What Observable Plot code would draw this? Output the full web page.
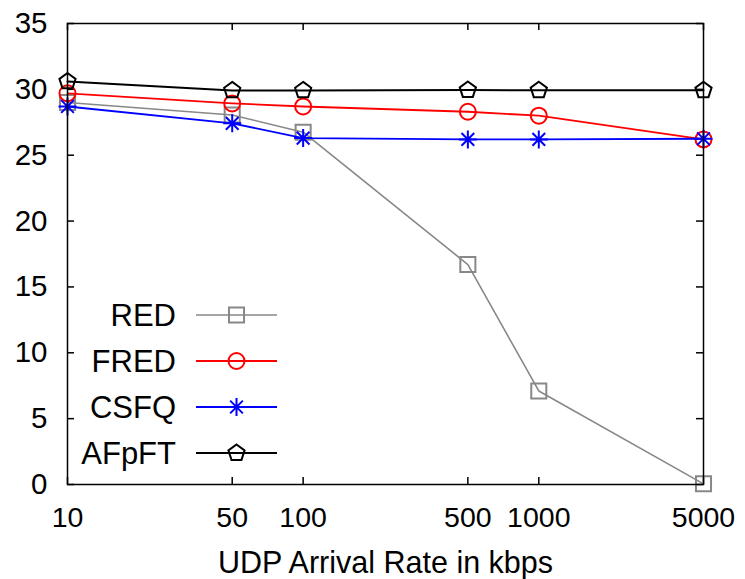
<!DOCTYPE html>
<html>
<head>
<meta charset="utf-8">
<script src="https://cdn.jsdelivr.net/npm/d3@7"></script>
<script src="https://cdn.jsdelivr.net/npm/@observablehq/plot@0.6"></script>
<style>
  html, body { margin: 0; padding: 0; background: white; }
  #chart svg { display: block; }
</style>
</head>
<body>
<div id="chart"></div>
<script>
// ---- data ----
const rates = [10, 50, 100, 500, 1000, 5000];
const xTickLabels = ["10", "50", "100", "500", "1000", "5000"];
const yTicks = [0, 5, 10, 15, 20, 25, 30, 35];
const seriesNames = ["RED", "FRED", "CSFQ", "AFpFT"];
const redValues = [29.0, 28.05, 26.75, 16.7, 7.1, 0.05];
const fredValues = [29.7, 28.93, 28.7, 28.3, 28.0, 26.2];
const csfqValues = [28.7, 27.42, 26.3, 26.2, 26.2, 26.25];
const afpftValues = [30.6, 29.92, 29.92, 29.95, 29.93, 29.93];
const xLabel = "UDP Arrival Rate in kbps";

// ---- layout / style ----
const W = 745, H = 579;
const mL = 67, mR = 42, mT = 23, mB = 95;
const innerW = W - mL - mR, innerH = H - mT - mB;
const tickLen = 7;
const font = "'Liberation Sans', Arial, Helvetica, sans-serif";

const pentagon = {
  draw(ctx, size) {
    const r = Math.sqrt(size / Math.PI);
    for (let i = 0; i < 5; i++) {
      const a = -Math.PI / 2 + i * 2 * Math.PI / 5;
      const x = r * Math.cos(a), y = r * Math.sin(a);
      if (i === 0) ctx.moveTo(x, y); else ctx.lineTo(x, y);
    }
    ctx.closePath();
  }
};
const asterisk = {
  draw(ctx, size) {
    const r = Math.sqrt(size / Math.PI);
    for (let i = 0; i < 4; i++) {
      const a = i * Math.PI / 4;
      ctx.moveTo(r * Math.cos(a), r * Math.sin(a));
      ctx.lineTo(-r * Math.cos(a), -r * Math.sin(a));
    }
  }
};

const styles = [
  {name: seriesNames[0], values: redValues, color: "#888888", symbol: "square", r: 8.5, lw: 1.6},
  {name: seriesNames[1], values: fredValues, color: "#ff0000", symbol: "circle", r: 8, lw: 1.8},
  {name: seriesNames[2], values: csfqValues, color: "#0000ff", symbol: asterisk, r: 9, lw: 1.8},
  {name: seriesNames[3], values: afpftValues, color: "#000000", symbol: pentagon, r: 8.5, lw: 2}
];

const seriesMarks = styles.flatMap(s => {
  const rows = rates.map((x, i) => ({x, y: s.values[i]}));
  return [
    Plot.line(rows, {x: "x", y: "y", stroke: s.color, strokeWidth: s.lw}),
    Plot.dot(rows, {x: "x", y: "y", stroke: s.color, strokeWidth: 2, fill: "none", symbol: s.symbol, r: s.r})
  ];
});

const chart = Plot.plot({
  width: W, height: H,
  marginLeft: mL, marginRight: mR, marginTop: mT, marginBottom: mB,
  style: {fontFamily: font, fontSize: "28px", color: "black", background: "white"},
  x: {type: "log", domain: [10, 5000], axis: null},
  y: {domain: [0, 35]},
  marks: [
    Plot.axisY(yTicks, {tickSize: 0, tickPadding: 20, fontSize: 29.5, label: null}),
    Plot.text(rates, {x: d => d, text: (d, i) => xTickLabels[i], frameAnchor: "bottom", dy: 22,
      lineAnchor: "top", fontSize: 28.5, fill: "black"}),
    Plot.text([xLabel], {frameAnchor: "bottom", dy: 79, lineAnchor: "middle", fontSize: 30.5, fill: "black"}),
    Plot.tickX(rates, {x: d => d, insetTop: innerH - tickLen, stroke: "black", strokeWidth: 1.5}),
    Plot.tickX(rates, {x: d => d, insetBottom: innerH - tickLen, stroke: "black", strokeWidth: 1.5}),
    Plot.tickY(yTicks, {y: d => d, insetRight: innerW - tickLen, stroke: "black", strokeWidth: 1.5}),
    Plot.tickY(yTicks, {y: d => d, insetLeft: innerW - tickLen, stroke: "black", strokeWidth: 1.5}),
    ...seriesMarks,
    Plot.frame({stroke: "black", strokeWidth: 1.5})
  ]
});

// ---- legend inside the plot area (bottom-left) ----
const svg = d3.select(chart);
const lg = svg.append("g").attr("font-family", font).attr("font-size", 31);
styles.forEach((s, i) => {
  const cy = 315 + i * 46;
  lg.append("text").attr("x", 176).attr("y", cy).attr("dy", "0.36em")
    .attr("text-anchor", "end").attr("fill", "black").text(s.name);
  lg.append("line").attr("x1", 196).attr("x2", 277).attr("y1", cy).attr("y2", cy)
    .attr("stroke", s.color).attr("stroke-width", s.lw);
  const type = typeof s.symbol === "string" ? (s.symbol === "square" ? d3.symbolSquare : d3.symbolCircle) : s.symbol;
  lg.append("path").attr("d", d3.symbol(type, Math.PI * s.r * s.r)())
    .attr("transform", `translate(236.5,${cy})`)
    .attr("fill", "none").attr("stroke", s.color).attr("stroke-width", 2);
});

document.getElementById("chart").appendChild(chart);
</script>
</body>
</html>
